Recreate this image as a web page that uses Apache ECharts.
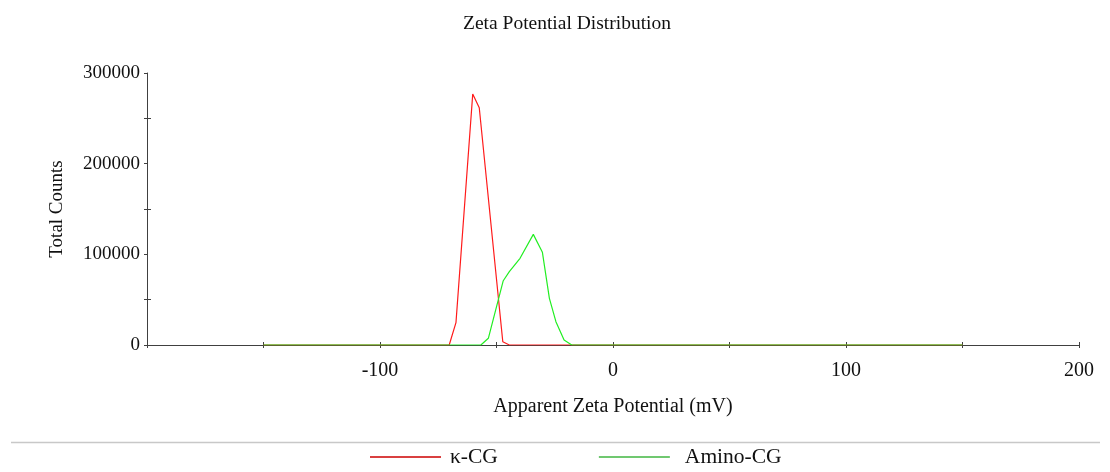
<!DOCTYPE html>
<html><head><meta charset="utf-8">
<script src="https://cdn.jsdelivr.net/npm/echarts@6/dist/echarts.min.js"></script>
<style>html,body{margin:0;padding:0;background:#fff}#c{width:1110px;height:472px}</style>
</head><body><div id="c"></div>
<script>
const seriesNames = ['κ-CG', 'Amino-CG'];
const kappaX = [-150, -70.3, -67.4, -60.2, -57.4, -47.3, -44.5, 150];
const kappaY = [0, 0, 24600, 276800, 261700, 3600, 0, 0];
const aminoX = [-150, -56.7, -53.5, -47.1, -44.5, -39.9, -34.2, -30.3, -27.3, -24.5, -21.0, -17.7, 150];
const aminoY = [0, 0, 7400, 70900, 80900, 95600, 122000, 102200, 51500, 25700, 5500, 0, 0];
const xLabels = [-100, 0, 100, 200];
const yLabels = [0, 100000, 200000, 300000];

const font = '"Liberation Serif", "Times New Roman", serif';
const axisColor = '#404040';
const toPairs = (xs, ys) => xs.map((x, i) => [x, ys[i]]);

const chart = echarts.init(document.getElementById('c'));
const xBase = {min: -200, max: 200, interval: 50, position: 'bottom',
  splitLine: {show: false}};
const yBase = {min: 0, max: 300000, interval: 50000, position: 'left', splitLine: {show: false}};
chart.setOption({
  animation: false,
  title: {text: 'Zeta Potential Distribution', left: 562, textAlign: 'center', top: 9,
    textStyle: {fontFamily: font, fontSize: 19.5, fontWeight: 'normal', color: '#111'}},
  grid: {left: 147, right: 31, top: 73, bottom: 127},
  legend: {
    left: 370, top: 446, itemWidth: 71, itemHeight: 2, itemGap: 101, padding: 0,
    icon: 'rect',
    textStyle: {fontFamily: font, fontSize: 21.5, color: '#111', padding: [0, 0, 0, 4]},
    data: [
      {name: seriesNames[0], itemStyle: {color: '#d94040'}},
      {name: seriesNames[1], itemStyle: {color: '#70c870'},
        textStyle: {padding: [0, 0, 0, 10]}}
    ]
  },
  graphic: [{type: 'line', shape: {x1: 11, y1: 442.5, x2: 1100, y2: 442.5},
    style: {stroke: '#c8c8c8', lineWidth: 1.5}}],
  xAxis: [
    Object.assign({}, xBase, {
      type: 'value', name: 'Apparent Zeta Potential (mV)', nameLocation: 'middle', nameGap: 52,
      nameTextStyle: {fontFamily: font, fontSize: 20, color: '#111'},
      axisLine: {show: true, onZero: false, lineStyle: {color: axisColor, width: 1}},
      axisTick: {show: true, inside: false, length: 3, lineStyle: {color: axisColor}},
      axisLabel: {fontFamily: font, fontSize: 20, color: '#111', margin: 16,
        customValues: xLabels, formatter: v => String(v)}
    }),
    Object.assign({}, xBase, {
      type: 'value', show: true,
      axisLine: {show: false, onZero: false},
      axisTick: {show: true, inside: true, length: 3, lineStyle: {color: axisColor}},
      axisLabel: {show: false}
    })
  ],
  yAxis: [
    Object.assign({}, yBase, {
      type: 'value', name: 'Total Counts', nameLocation: 'middle', nameGap: 80,
      nameTextStyle: {fontFamily: font, fontSize: 19, color: '#111'},
      axisLine: {show: true, onZero: false, lineStyle: {color: axisColor, width: 1}},
      axisTick: {show: true, inside: false, length: 3, lineStyle: {color: axisColor}},
      axisLabel: {fontFamily: font, fontSize: 19, color: '#111', margin: 7,
        customValues: yLabels, formatter: v => String(v)}
    }),
    Object.assign({}, yBase, {
      type: 'value', show: true,
      axisLine: {show: false, onZero: false},
      axisTick: {show: true, inside: true, length: 4, customValues: [50000, 150000, 250000],
        lineStyle: {color: axisColor}},
      axisLabel: {show: false}
    })
  ],
  series: [
    {name: seriesNames[0], type: 'line', data: toPairs(kappaX, kappaY), symbol: 'none',
      lineStyle: {color: '#ff1a1a', width: 1.2}, itemStyle: {color: '#d94040'}, z: 3},
    {name: seriesNames[1], type: 'line', data: toPairs(aminoX, aminoY), symbol: 'none',
      lineStyle: {color: '#22ee22', width: 1.2}, itemStyle: {color: '#70c870'}, z: 4}
  ]
});
</script></body></html>
